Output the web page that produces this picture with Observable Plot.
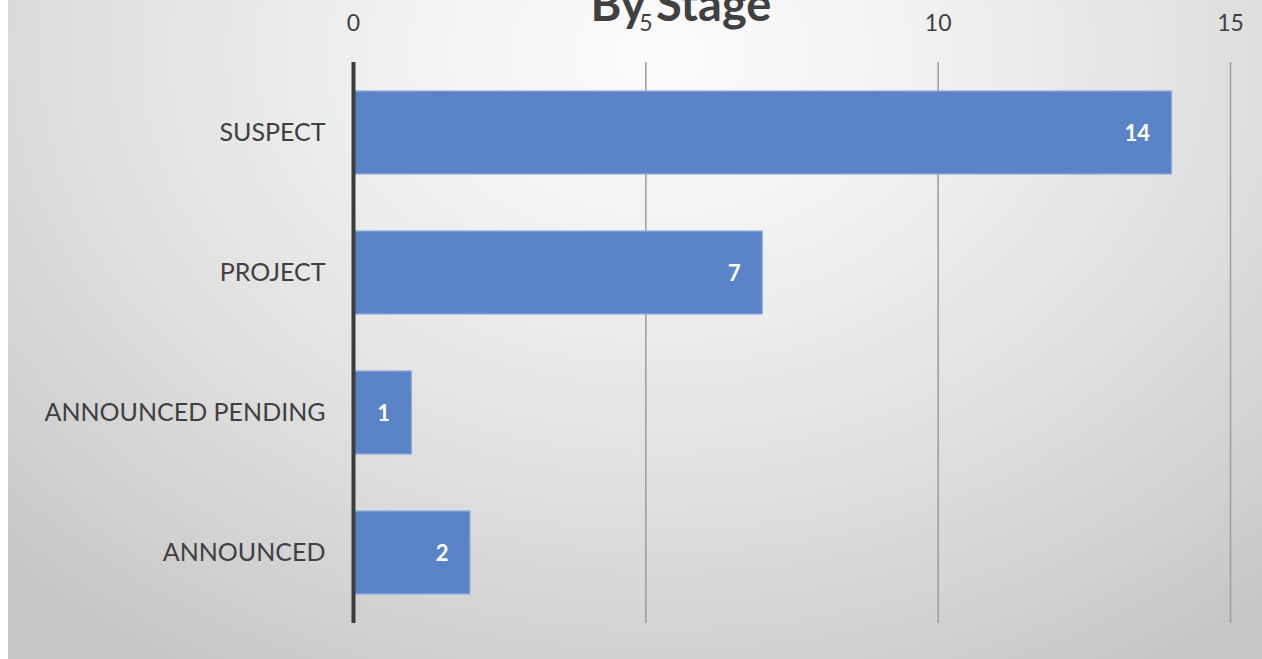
<!DOCTYPE html>
<html>
<head>
<meta charset="utf-8">
<script src="https://cdn.jsdelivr.net/npm/d3@7"></script>
<script src="https://cdn.jsdelivr.net/npm/@observablehq/plot@0.6"></script>
<style>
  html, body { margin: 0; padding: 0; background: #fff; }
  #wrap { position: relative; width: 1262px; height: 659px; overflow: hidden; background: #fff; }
  #bg { position: absolute; left: 8px; top: 0; right: 0; bottom: 0;
        background: radial-gradient(ellipse 75% 110% at 52% 8%, #fcfcfc 0%, #eeeeee 35%, #dadada 70%, #c6c6c6 100%); }
  #chart { position: absolute; left: 0; top: 0; }
  #chart svg { background: transparent; }
</style>
</head>
<body>
<div id="wrap"><div id="bg"></div><div id="chart"></div></div>
<script>
const title = "By Stage";
const stages = ["SUSPECT", "PROJECT", "ANNOUNCED PENDING", "ANNOUNCED"];
const counts = [14, 7, 1, 2];
const xTicks = [0, 5, 10, 15];

const data = stages.map((s, i) => ({stage: s, count: counts[i]}));
const font = "Lato, 'Open Sans', sans-serif";

const plot = Plot.plot({
  width: 1262,
  height: 659,
  marginLeft: 353,
  marginRight: 32,
  marginTop: 62,
  marginBottom: 36,
  style: {background: "transparent", fontFamily: font, color: "#404040", overflow: "hidden"},
  x: {domain: [0, 15], ticks: xTicks, axis: null},
  y: {domain: stages, paddingInner: 0.41, paddingOuter: 0.205, axis: null},
  marks: [
    Plot.text([title], {frameAnchor: "top", x: () => 5.6, y: null, dy: -75, text: d => d, fontSize: 47, fontWeight: "bold", fill: "#404040", lineAnchor: "top"}),
    Plot.gridX([5, 10, 15], {stroke: "#a0a0a0", strokeOpacity: 1, strokeWidth: 1.6}),
    Plot.barX(data, {y: "stage", x: "count", fill: "#5b84c8", stroke: "#8fabdc", strokeWidth: 1.2}),
    Plot.text(data, {y: "stage", x: "count", text: d => String(d.count), textAnchor: "end", dx: -22, dy: 1, fill: "#ffffff", fontWeight: "bold", fontSize: 22}),
    Plot.ruleX([0], {stroke: "#3c3c3c", strokeWidth: 4}),
    Plot.axisX(xTicks, {anchor: "top", tickSize: 0, tickPadding: 32, fontSize: 23, fill: "#404040", label: null}),
    Plot.axisY({anchor: "left", tickSize: 0, tickPadding: 28, fontSize: 25, fill: "#404040", label: null})
  ]
});
document.getElementById("chart").appendChild(plot);
</script>
</body>
</html>
